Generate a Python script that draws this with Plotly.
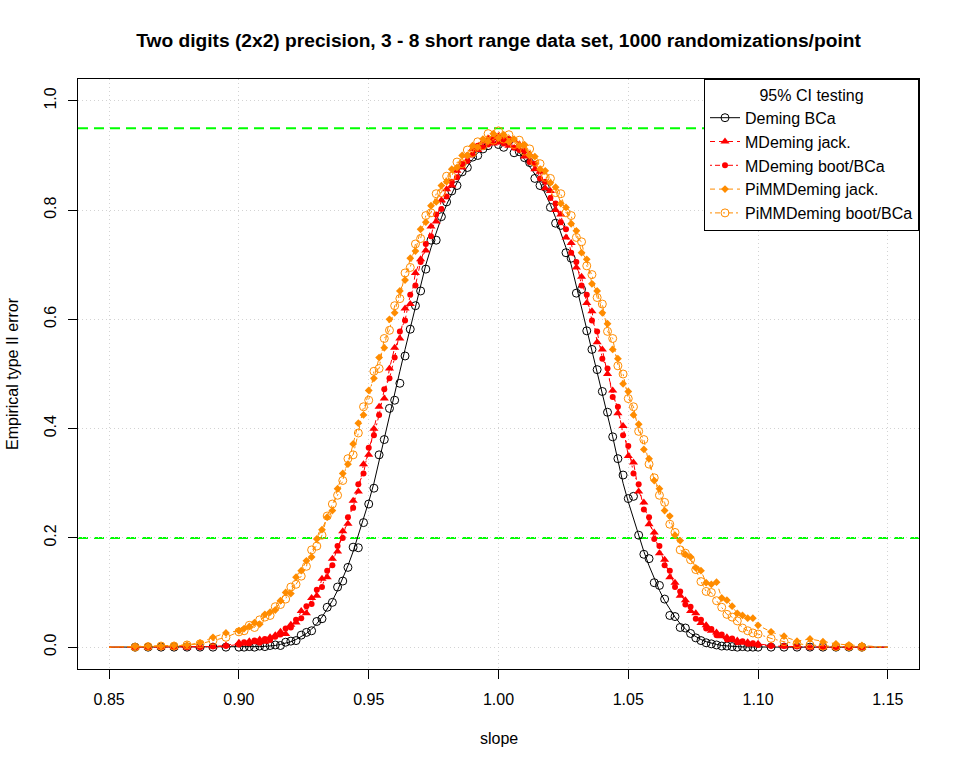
import plotly.graph_objects as go

# ---------------- data ----------------
SLOPE = [0.85,
         0.86, 0.865, 0.87, 0.875, 0.88, 0.885, 0.89, 0.895,
         0.900, 0.902, 0.904, 0.906, 0.908, 0.910, 0.912, 0.914, 0.916, 0.918,
         0.920, 0.922, 0.924, 0.926, 0.928, 0.930, 0.932, 0.934, 0.936, 0.938,
         0.940, 0.942, 0.944, 0.946, 0.948, 0.950, 0.952, 0.954, 0.956, 0.958,
         0.960, 0.962, 0.964, 0.966, 0.968, 0.970, 0.972, 0.974, 0.976, 0.978,
         0.980, 0.982, 0.984, 0.986, 0.988, 0.990, 0.992, 0.994, 0.996, 0.998,
         1.000, 1.002, 1.004, 1.006, 1.008, 1.010, 1.012, 1.014, 1.016, 1.018,
         1.020, 1.022, 1.024, 1.026, 1.028, 1.030, 1.032, 1.034, 1.036, 1.038,
         1.040, 1.042, 1.044, 1.046, 1.048, 1.050, 1.052, 1.054, 1.056, 1.058,
         1.060, 1.062, 1.064, 1.066, 1.068, 1.070, 1.072, 1.074, 1.076, 1.078,
         1.080, 1.082, 1.084, 1.086, 1.088, 1.090, 1.092, 1.094, 1.096, 1.098,
         1.100,
         1.105, 1.11, 1.115, 1.12, 1.125, 1.13, 1.135, 1.14,
         1.15]

# smooth fitted curve for Deming BCa
DEMING_FIT = [0,
              0, 0, 0, 0, 0, 0, 0, 0,
              0, 0.0001, 0.0003, 0.0005, 0.001, 0.0015, 0.002, 0.003, 0.005, 0.007,
              0.010, 0.014, 0.019, 0.025, 0.033, 0.043, 0.055, 0.069, 0.085, 0.104,
              0.125, 0.149, 0.175, 0.204, 0.235, 0.266, 0.300, 0.342, 0.385, 0.425,
              0.465, 0.505, 0.545, 0.583, 0.620, 0.661, 0.700, 0.731, 0.760, 0.786,
              0.810, 0.831, 0.850, 0.866, 0.880, 0.893, 0.905, 0.913, 0.920, 0.923,
              0.925, 0.923, 0.920, 0.913, 0.905, 0.893, 0.880, 0.866, 0.850, 0.831,
              0.810, 0.786, 0.760, 0.731, 0.700, 0.661, 0.620, 0.583, 0.545, 0.505,
              0.465, 0.425, 0.385, 0.342, 0.300, 0.266, 0.235, 0.204, 0.175, 0.149,
              0.125, 0.104, 0.085, 0.069, 0.055, 0.043, 0.033, 0.025, 0.019, 0.014,
              0.010, 0.007, 0.005, 0.003, 0.002, 0.0015, 0.001, 0.0005, 0.0003, 0.0001,
              0,
              0, 0, 0, 0, 0, 0, 0, 0,
              0]

DEMING_BCA = [0,
              0, 0, 0, 0, 0, 0, 0, 0,
              0, 0, 0.001, 0, 0.002, 0.001, 0.003, 0.004, 0.003, 0.009,
              0.011, 0.012, 0.022, 0.027, 0.030, 0.047, 0.052, 0.073, 0.082, 0.110,
              0.121, 0.146, 0.183, 0.182, 0.228, 0.262, 0.291, 0.352, 0.380, 0.437,
              0.452, 0.483, 0.533, 0.582, 0.625, 0.652, 0.692, 0.745, 0.745, 0.788,
              0.815, 0.835, 0.845, 0.870, 0.878, 0.897, 0.900, 0.912, 0.918, 0.928,
              0.920, 0.915, 0.927, 0.905, 0.907, 0.896, 0.887, 0.858, 0.845, 0.842,
              0.805, 0.776, 0.772, 0.722, 0.712, 0.648, 0.655, 0.579, 0.545, 0.508,
              0.468, 0.430, 0.385, 0.345, 0.315, 0.272, 0.276, 0.205, 0.170, 0.162,
              0.118, 0.113, 0.088, 0.058, 0.056, 0.036, 0.035, 0.025, 0.017, 0.012,
              0.008, 0.006, 0.004, 0.002, 0.002, 0.001, 0, 0.001, 0, 0,
              0,
              0, 0, 0, 0, 0, 0, 0, 0,
              0]

MDEMING_JACK = [0,
                0, 0, 0, 0, 0, 0.001, 0.001, 0.003,
                0.008, 0.006, 0.011, 0.009, 0.014, 0.010, 0.018, 0.022, 0.028, 0.024,
                0.041, 0.045, 0.066, 0.062, 0.090, 0.094, 0.125, 0.128, 0.162, 0.175,
                0.212, 0.226, 0.268, 0.285, 0.335, 0.352, 0.400, 0.440, 0.455, 0.510,
                0.548, 0.565, 0.620, 0.628, 0.685, 0.710, 0.726, 0.770, 0.779, 0.818,
                0.838, 0.845, 0.872, 0.878, 0.900, 0.912, 0.910, 0.925, 0.931, 0.922,
                0.935, 0.930, 0.918, 0.928, 0.920, 0.898, 0.902, 0.875, 0.870, 0.840,
                0.835, 0.800, 0.792, 0.750, 0.740, 0.695, 0.678, 0.630, 0.615, 0.558,
                0.545, 0.500, 0.470, 0.428, 0.405, 0.350, 0.338, 0.285, 0.265, 0.225,
                0.210, 0.172, 0.160, 0.128, 0.118, 0.094, 0.086, 0.066, 0.062, 0.044,
                0.040, 0.030, 0.027, 0.020, 0.018, 0.013, 0.012, 0.008, 0.009, 0.005,
                0.006,
                0.003, 0.001, 0.001, 0, 0, 0, 0, 0,
                0]

MDEMING_BOOT = [0,
                0, 0, 0, 0, 0, 0, 0.001, 0.002,
                0.005, 0.009, 0.007, 0.012, 0.008, 0.015, 0.013, 0.019, 0.023, 0.034,
                0.036, 0.050, 0.053, 0.075, 0.079, 0.105, 0.110, 0.140, 0.150, 0.185,
                0.200, 0.238, 0.255, 0.298, 0.318, 0.365, 0.388, 0.425, 0.472, 0.492,
                0.530, 0.578, 0.598, 0.645, 0.662, 0.705, 0.738, 0.752, 0.792, 0.802,
                0.825, 0.852, 0.860, 0.885, 0.890, 0.902, 0.918, 0.915, 0.920, 0.932,
                0.925, 0.922, 0.930, 0.914, 0.910, 0.908, 0.888, 0.885, 0.858, 0.852,
                0.822, 0.812, 0.778, 0.765, 0.722, 0.705, 0.662, 0.645, 0.598, 0.578,
                0.528, 0.510, 0.458, 0.440, 0.388, 0.368, 0.318, 0.298, 0.252, 0.238,
                0.198, 0.185, 0.150, 0.140, 0.110, 0.102, 0.078, 0.074, 0.052, 0.050,
                0.034, 0.033, 0.022, 0.023, 0.014, 0.016, 0.009, 0.011, 0.006, 0.007,
                0.004,
                0.002, 0.002, 0.001, 0, 0, 0, 0, 0,
                0]

PIMM_JACK = [0,
             0.001, 0.002, 0.002, 0.003, 0.004, 0.008, 0.018, 0.026,
             0.030, 0.034, 0.038, 0.045, 0.042, 0.060, 0.064, 0.068, 0.085, 0.100,
             0.098, 0.128, 0.140, 0.158, 0.165, 0.198, 0.215, 0.238, 0.250, 0.290,
             0.318, 0.335, 0.372, 0.410, 0.425, 0.470, 0.492, 0.530, 0.548, 0.600,
             0.612, 0.652, 0.672, 0.712, 0.725, 0.765, 0.778, 0.808, 0.815, 0.845,
             0.852, 0.875, 0.878, 0.900, 0.900, 0.918, 0.915, 0.930, 0.926, 0.940,
             0.932, 0.938, 0.925, 0.930, 0.918, 0.920, 0.900, 0.898, 0.875, 0.872,
             0.850, 0.842, 0.812, 0.805, 0.775, 0.762, 0.722, 0.710, 0.665, 0.652,
             0.612, 0.592, 0.545, 0.528, 0.482, 0.468, 0.425, 0.408, 0.362, 0.345,
             0.305, 0.290, 0.250, 0.240, 0.205, 0.195, 0.170, 0.165, 0.145, 0.140,
             0.118, 0.115, 0.119, 0.090, 0.086, 0.075, 0.062, 0.058, 0.053, 0.053,
             0.040,
             0.028, 0.020, 0.011, 0.015, 0.010, 0.006, 0.004, 0.003,
             0]

PIMM_BOOT = [0,
             0, 0.001, 0.002, 0.002, 0.004, 0.006, 0.012, 0.018,
             0.028, 0.030, 0.040, 0.036, 0.050, 0.055, 0.058, 0.074, 0.078, 0.088,
             0.110, 0.115, 0.130, 0.148, 0.178, 0.185, 0.205, 0.240, 0.262, 0.278,
             0.305, 0.345, 0.352, 0.392, 0.440, 0.452, 0.505, 0.510, 0.565, 0.580,
             0.625, 0.638, 0.685, 0.695, 0.738, 0.748, 0.790, 0.795, 0.830, 0.832,
             0.862, 0.862, 0.888, 0.885, 0.910, 0.905, 0.925, 0.918, 0.940, 0.928,
             0.945, 0.930, 0.938, 0.920, 0.928, 0.908, 0.912, 0.888, 0.885, 0.860,
             0.858, 0.832, 0.830, 0.795, 0.790, 0.750, 0.742, 0.698, 0.682, 0.640,
             0.628, 0.578, 0.565, 0.515, 0.500, 0.455, 0.440, 0.395, 0.380, 0.335,
             0.310, 0.278, 0.265, 0.225, 0.210, 0.178, 0.172, 0.160, 0.142, 0.120,
             0.102, 0.100, 0.085, 0.073, 0.060, 0.055, 0.048, 0.035, 0.030, 0.026,
             0.024,
             0.016, 0.010, 0.006, 0.004, 0.002, 0.001, 0.001, 0,
             0]

REF_LEVELS = [0.95, 0.2]
XTICKS = [0.85, 0.90, 0.95, 1.00, 1.05, 1.10, 1.15]
XTICK_LABELS = ["0.85", "0.90", "0.95", "1.00", "1.05", "1.10", "1.15"]
YTICKS = [0.0, 0.2, 0.4, 0.6, 0.8, 1.0]
YTICK_LABELS = ["0.0", "0.2", "0.4", "0.6", "0.8", "1.0"]

TITLE = "Two digits (2x2) precision, 3 - 8 short range data set, 1000 randomizations/point"
LEGEND_TITLE = "95% CI testing"
NAMES = ["Deming BCa", "MDeming jack.", "MDeming boot/BCa",
         "PiMMDeming jack.", "PiMMDeming boot/BCa"]

# ---------------- styling ----------------
FONT = "Liberation Sans, Arial, Helvetica, sans-serif"
ORANGE = "#FF8C00"
DASH = "5px,4px"
DOTDASH = "2px,3px,5px,3px"
W, H = 960, 768

MK_CIRCLE = dict(symbol="circle-open", size=8, color="black", line=dict(width=1, color="black"))
MK_TRI = dict(symbol="triangle-up", size=8, color="red", line=dict(width=0))
MK_DOT = dict(symbol="circle", size=6, color="red", line=dict(width=0))
MK_DIAM = dict(symbol="diamond", size=6, color=ORANGE, line=dict(width=0))
MK_OCIRC = dict(symbol="circle-open", size=8, color=ORANGE, line=dict(width=1, color=ORANGE))

fig = go.Figure()

# Deming BCa: smooth line + open circles
fig.add_trace(go.Scatter(x=SLOPE, y=DEMING_FIT, mode="lines",
                         line=dict(color="black", width=1),
                         showlegend=False, hoverinfo="skip"))
fig.add_trace(go.Scatter(x=SLOPE[1:-1], y=DEMING_BCA[1:-1], mode="markers",
                         marker=MK_CIRCLE, showlegend=False))

series = [
    (MDEMING_JACK, "red", DASH, MK_TRI),
    (MDEMING_BOOT, "red", DOTDASH, MK_DOT),
    (PIMM_JACK, ORANGE, DASH, MK_DIAM),
    (PIMM_BOOT, ORANGE, DOTDASH, MK_OCIRC),
]
for vals, col, dash, mk in series:
    fig.add_trace(go.Scatter(x=SLOPE, y=vals, mode="lines",
                             line=dict(color=col, width=1, dash=dash),
                             showlegend=False, hoverinfo="skip"))
    fig.add_trace(go.Scatter(x=SLOPE[1:-1], y=vals[1:-1], mode="markers",
                             marker=mk, showlegend=False))

# legend entries
legend_styles = [
    ("black", "solid", MK_CIRCLE),
    ("red", DASH, MK_TRI),
    ("red", DOTDASH, MK_DOT),
    (ORANGE, DASH, MK_DIAM),
    (ORANGE, DOTDASH, MK_OCIRC),
]
for name, (col, dash, mk) in zip(NAMES, legend_styles):
    fig.add_trace(go.Scatter(x=[None], y=[None], mode="lines+markers", name=name,
                             line=dict(color=col, width=1, dash=dash), marker=mk))

for lvl in REF_LEVELS:
    fig.add_shape(type="line", xref="paper", x0=0, x1=1, yref="y", y0=lvl, y1=lvl,
                  line=dict(color="#00FF00", width=2, dash="10px,6px"), layer="below")

axis_common = dict(showline=True, linecolor="black", linewidth=1, mirror=True,
                   ticks="outside", ticklen=9, tickcolor="black", tickwidth=1,
                   showgrid=True, gridcolor="#D3D3D3", gridwidth=1, griddash="1px,3px",
                   zeroline=False, tickfont=dict(family=FONT, size=16, color="black"))

fig.update_xaxes(range=[0.838, 1.162], tickvals=XTICKS, ticktext=XTICK_LABELS,
                 ticklabelstandoff=7, **axis_common)
fig.update_yaxes(range=[-0.04, 1.04], tickvals=YTICKS, ticktext=YTICK_LABELS,
                 tickangle=-90, ticklabelstandoff=6, **axis_common)

fig.update_layout(
    width=W, height=H,
    margin=dict(l=78, r=41, t=79, b=99, autoexpand=False),
    paper_bgcolor="white", plot_bgcolor="white",
    font=dict(family=FONT, size=16, color="black"),
    title=dict(text="<b>" + TITLE + "</b>", x=0.5, xref="paper", xanchor="center",
               y=1 - 40 / H, yref="container", yanchor="middle",
               font=dict(family=FONT, size=19.2, color="black")),
    showlegend=True,
    legend=dict(x=1, xanchor="right", y=1, yanchor="top", xref="paper", yref="paper",
                bgcolor="white", bordercolor="black", borderwidth=1,
                font=dict(family=FONT, size=16, color="black"),
                title=dict(text=LEGEND_TITLE, side="top center",
                           font=dict(family=FONT, size=16, color="black")),
                itemwidth=30, tracegroupgap=0),
    annotations=[
        dict(text="slope", xref="paper", x=0.5, yref="paper", y=0, yshift=-69,
             xanchor="center", yanchor="middle", showarrow=False,
             font=dict(family=FONT, size=16, color="black")),
        dict(text="Empirical type II error", xref="paper", x=0, xshift=-66,
             yref="paper", y=0.5, xanchor="center", yanchor="middle", textangle=-90,
             showarrow=False, font=dict(family=FONT, size=16, color="black")),
    ],
)

# remove the default 8px page margin so the figure fills the window exactly
fig.write_html("out.html",
               config={"displayModeBar": False},
               post_script="document.body.style.margin='0';document.body.style.overflow='hidden';")
